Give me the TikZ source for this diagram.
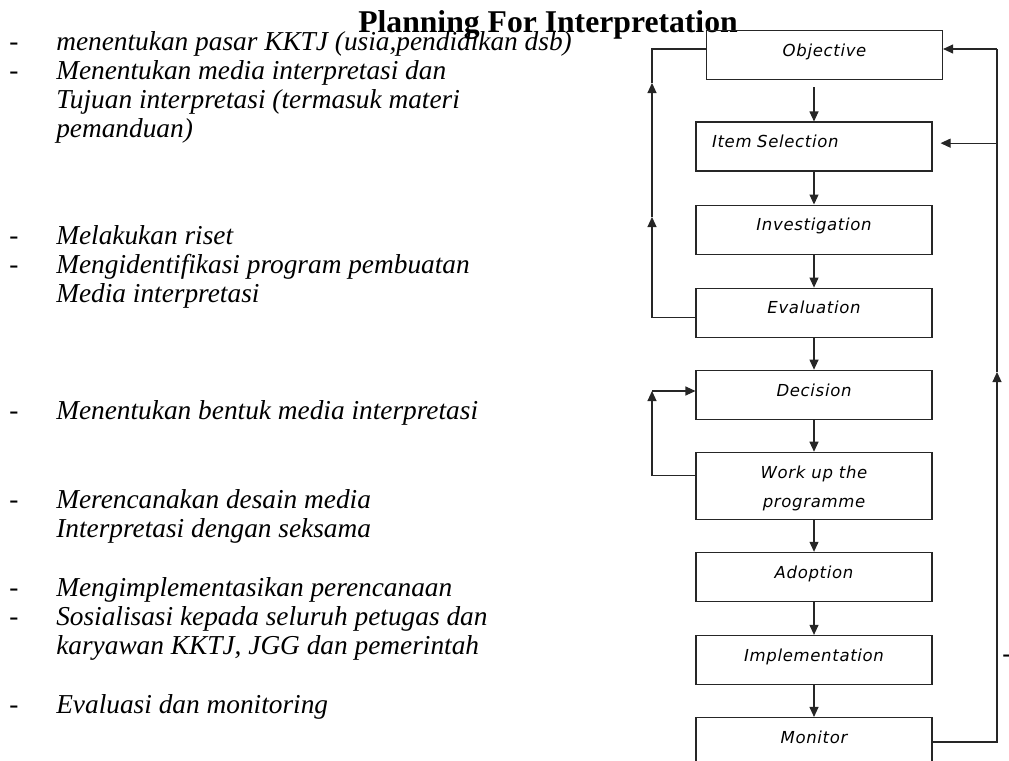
\documentclass[tikz,border=0pt]{standalone}
\usepackage{fontspec}
\setmainfont{Liberation Serif}
\newfontfamily\boxfont[LetterSpace=4]{DejaVu Sans}
\usetikzlibrary{positioning,arrows.meta}

\tikzset{
  stage/.style={draw=black!85, line width=0.8pt, rectangle, minimum width=177pt, minimum height=36.75pt, inner sep=0pt, text height=8.7pt, text depth=6.7pt, font=\boxfont\itshape\fontsize{12.4}{16}\selectfont},
  flow/.style={-{Triangle[width=6.75pt,length=7.5pt]}, line width=0.8pt, black!85},
  plain/.style={line width=0.8pt, black!85},
  point/.style={anchor=base west, inner sep=0pt, font=\fontsize{20.5}{24}\selectfont\itshape},
  hyph/.style={anchor=base west, inner sep=0pt, font=\fontsize{20.5}{24}\selectfont},
}

\begin{document}
\begin{tikzpicture}[x=0.75pt, y=-0.75pt]
\useasboundingbox (0,0) rectangle (1009,760);

% title
\node[anchor=base, inner sep=0pt, font=\fontsize{23.75}{28}\selectfont\bfseries] (title) at (548,32) {Planning For Interpretation};

% left column
\node[hyph] (d1) at (9,50) {-};
\node[point] (t1) at (56,50) {menentukan pasar KKTJ (usia,pendidikan dsb)};
\node[hyph] (d2) at (9,79) {-};
\node[point] (t2) at (56,79) {Menentukan media interpretasi dan};
\node[point] (t3) at (56,108) {Tujuan interpretasi (termasuk materi};
\node[point] (t4) at (56,137) {pemanduan)};
\node[hyph] (d5) at (9,244) {-};
\node[point] (t5) at (56,244) {Melakukan riset};
\node[hyph] (d6) at (9,273) {-};
\node[point] (t6) at (56,273) {Mengidentifikasi program pembuatan};
\node[point] (t7) at (56,302) {Media interpretasi};
\node[hyph] (d8) at (9,419) {-};
\node[point] (t8) at (56,419) {Menentukan bentuk media interpretasi};
\node[hyph] (d9) at (9,508) {-};
\node[point] (t9) at (56,508) {Merencanakan desain media};
\node[point] (t10) at (56,537) {Interpretasi dengan seksama};
\node[hyph] (d11) at (9,596) {-};
\node[point] (t11) at (56,596) {Mengimplementasikan perencanaan};
\node[hyph] (d12) at (9,625) {-};
\node[point] (t12) at (56,625) {Sosialisasi kepada seluruh petugas dan};
\node[point] (t13) at (56,654) {karyawan KKTJ, JGG dan pemerintah};
\node[hyph] (d14) at (9,713) {-};
\node[point] (t14) at (56,713) {Evaluasi dan monitoring};
\node[hyph] (d0) at (1002,662) {-};

% flow boxes
\node[stage, text width=153pt, align=left] (item) at (814,146.5) {Item Selection};
\node[stage, above=30.75pt of item, xshift=7.9pt] (obj) {Objective};
\node[stage, below=24.75pt of item] (inv) {Investigation};
\node[stage, below=24.75pt of inv] (eval) {Evaluation};
\node[stage, below=24pt of eval] (dec) {Decision};
\node[stage, below=24pt of dec, minimum height=50.25pt, align=center, text height=33pt, text depth=0pt, font=\boxfont\itshape\fontsize{12.4}{21.75}\selectfont] (work) {Work up the\\programme};
\node[stage, below=24pt of work] (adop) {Adoption};
\node[stage, below=24.75pt of adop] (impl) {Implementation};
\node[stage, below=24pt of impl] (mon) {Monitor};

\coordinate (objout) at ([yshift=-5pt]obj.south);
\draw[flow] (objout -| item.north) -- (item.north);
\draw[flow] (item) -- (inv);
\draw[flow] (inv) -- (eval);
\draw[flow] (eval) -- (dec);
\draw[flow] (dec) -- (work);
\draw[flow] (work) -- (adop);
\draw[flow] (adop) -- (impl);
\draw[flow] (impl) -- (mon);

% back from evaluation
\coordinate (evalout) at ([yshift=-3.75pt]eval.west);
\coordinate (upA) at (652,217);
\coordinate (upB) at (652,83);
\coordinate (topL) at (652,49);
\draw[flow] (evalout) -| (upA);
\draw[flow] (upA) -- (upB);
\draw[plain] (upB) -- (topL) -- (topL -| obj.west);

% back from work up
\coordinate (workout) at ([yshift=7.9pt]work.west);
\coordinate (upC) at (652,391);
\draw[flow] (workout) -| (upC);
\draw[flow] (upC) -- (upC -| dec.west);

% back from monitor
\coordinate (upD) at (997,372);
\coordinate (topR) at (997,49);
\draw[flow] (mon.east) -| (upD);
\draw[plain] (upD) -- (topR);
\draw[flow] (topR) -- (topR -| obj.east);
\coordinate (itemin) at ([yshift=2.5pt,xshift=6pt]item.east);
\draw[flow] (itemin -| topR) -- (itemin);
\end{tikzpicture}
\end{document}
